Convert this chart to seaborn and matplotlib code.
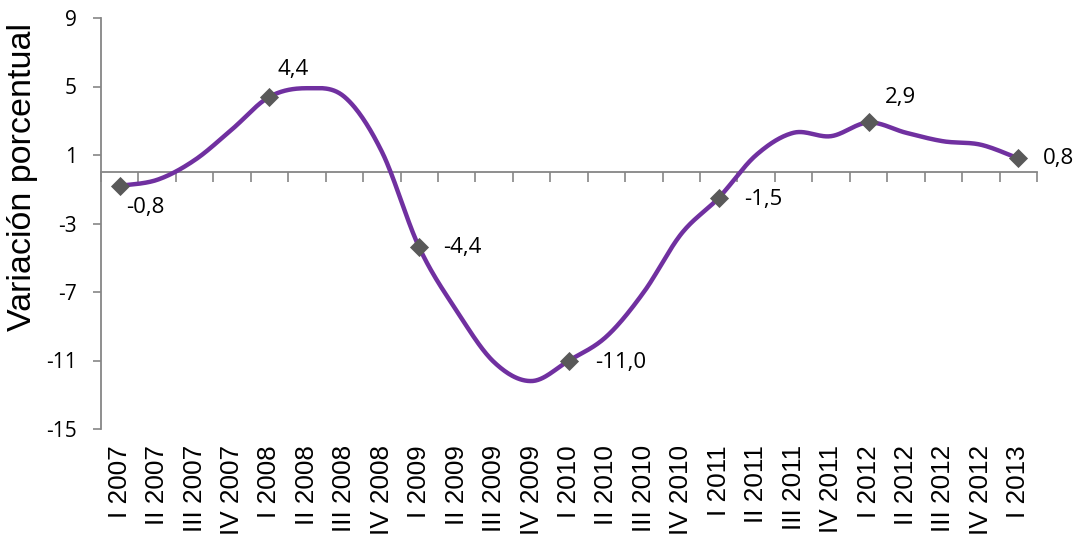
import numpy as np
import pandas as pd
import matplotlib
matplotlib.use("Agg")
import matplotlib.pyplot as plt
import seaborn as sns

# ---------------- data ----------------
quarters = ["I 2007", "II 2007", "III 2007", "IV 2007",
            "I 2008", "II 2008", "III 2008", "IV 2008",
            "I 2009", "II 2009", "III 2009", "IV 2009",
            "I 2010", "II 2010", "III 2010", "IV 2010",
            "I 2011", "II 2011", "III 2011", "IV 2011",
            "I 2012", "II 2012", "III 2012", "IV 2012",
            "I 2013"]
values = [-0.8, -0.45, 0.7, 2.5,
          4.4, 4.9, 4.4, 1.2,
          -4.4, -8.1, -11.1, -12.2,
          -11.0, -9.6, -7.0, -3.6,
          -1.5, 1.0, 2.3, 2.1,
          2.9, 2.3, 1.8, 1.6,
          0.8]
marked_idx = [0, 4, 8, 12, 16, 20, 24]
yticks = [-15, -11, -7, -3, 1, 5, 9]

# label offsets in pixels (dx, dy) for the marked points
label_offsets = [(6, -22), (8, 27), (24, 0), (26, -2), (25, -2), (16, 25), (25, 0)]

# ---------------- style ----------------
sns.set_theme(style="white")
plt.rcParams["font.family"] = ["Liberation Sans", "DejaVu Sans"]

purple = "#7030A0"
marker_gray = "#595959"
axis_gray = "#868686"
calibri_like = ["Open Sans", "DejaVu Sans"]

fig = plt.figure(figsize=(10.82, 5.38), dpi=100)
W, H = 1082, 538
ax = fig.add_axes([101 / W, 1 - 429 / H, (1037 - 101) / W, (429 - 18) / H])

# smoothed line (Excel-like Catmull-Rom / Bezier smoothing of the series)
x = np.arange(len(values), dtype=float)
y = np.asarray(values, dtype=float)
n = len(y)
sx, sy = [], []
t = np.linspace(0, 1, 30)
for i in range(n - 1):
    p0 = np.array([x[max(i - 1, 0)], y[max(i - 1, 0)]])
    p1 = np.array([x[i], y[i]])
    p2 = np.array([x[i + 1], y[i + 1]])
    p3 = np.array([x[min(i + 2, n - 1)], y[min(i + 2, n - 1)]])
    c1 = p1 + (p2 - p0) / 6.0
    c2 = p2 - (p3 - p1) / 6.0
    tt = t if i == 0 else t[1:]
    b = ((1 - tt) ** 3)[:, None] * p1 + (3 * (1 - tt) ** 2 * tt)[:, None] * c1 \
        + (3 * (1 - tt) * tt ** 2)[:, None] * c2 + (tt ** 3)[:, None] * p2
    sx.extend(b[:, 0])
    sy.extend(b[:, 1])
smooth = pd.DataFrame({"x": sx, "y": sy})
sns.lineplot(data=smooth, x="x", y="y", sort=False, color=purple, linewidth=3.2, ax=ax,
             zorder=3)

marked = pd.DataFrame({"x": x[marked_idx], "y": y[marked_idx]})
sns.scatterplot(data=marked, x="x", y="y", marker="D", s=95, color=marker_gray,
                edgecolor=marker_gray, linewidth=0, ax=ax, zorder=4)

for (idx, (dx, dy)) in zip(marked_idx, label_offsets):
    txt = f"{values[idx]:.1f}".replace(".", ",")
    ax.annotate(txt, xy=(x[idx], y[idx]), xytext=(dx, dy), textcoords="offset pixels",
                ha="left", va="center", fontsize=16, color="black",
                family=calibri_like)

# axes
ax.set_xlim(-0.5, n - 0.5)
ax.set_ylim(-15, 9)
ax.set_yticks(yticks)
ax.set_yticklabels([str(v) for v in yticks], family=calibri_like)
ax.tick_params(axis="y", direction="out", length=6, width=1.2, color=axis_gray,
               pad=11.5, labelsize=15, labelcolor="black", left=True)

for side in ["top", "right"]:
    ax.spines[side].set_visible(False)
ax.spines["left"].set_color(axis_gray)
ax.spines["left"].set_linewidth(1.3)
ax.spines["bottom"].set_position(("data", 0))
ax.spines["bottom"].set_color(axis_gray)
ax.spines["bottom"].set_linewidth(1.3)

# tick marks on the zero line at category boundaries
ax.set_xticks(np.arange(-0.5, n, 1.0))
ax.set_xticklabels([])
ax.tick_params(axis="x", direction="out", length=7, width=1.2, color=axis_gray, bottom=True)

# category labels at the bottom of the plot area
sec = ax.secondary_xaxis("bottom")
sec.set_xticks(x)
sec.set_xticklabels(quarters, rotation=90, ha="center", va="top")
sec.tick_params(axis="x", length=0, pad=11.5, labelsize=18.8, labelcolor="black")
sec.spines["bottom"].set_visible(False)

ax.set_xlabel("")
ax.set_ylabel("Variación porcentual", fontsize=24.5, color="black")
ax.yaxis.label.set_va("center")
ax.yaxis.set_label_coords(-0.0844, 0.614)
ax.grid(False)

fig.savefig("out.png", dpi=100, facecolor="white")
